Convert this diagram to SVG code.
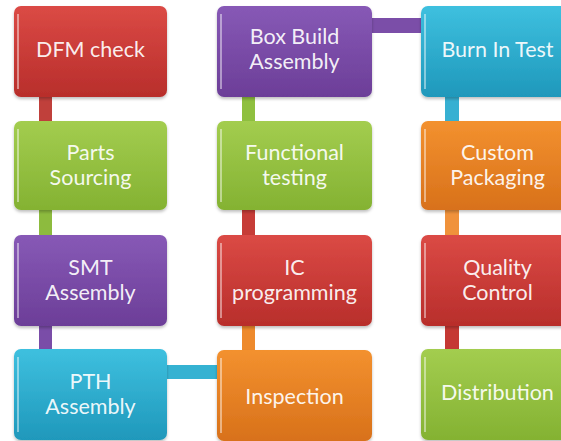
<svg xmlns="http://www.w3.org/2000/svg" width="561" height="441" viewBox="0 0 561 441">
<defs>
<linearGradient id="gRed" x1="0" y1="0" x2="0" y2="1"><stop offset="0" stop-color="#DB4A45"/><stop offset="1" stop-color="#B82E2B"/></linearGradient>
<linearGradient id="gGreen" x1="0" y1="0" x2="0" y2="1"><stop offset="0" stop-color="#A3CD4F"/><stop offset="1" stop-color="#84B232"/></linearGradient>
<linearGradient id="gPurple" x1="0" y1="0" x2="0" y2="1"><stop offset="0" stop-color="#8759B6"/><stop offset="1" stop-color="#6C3E98"/></linearGradient>
<linearGradient id="gCyan" x1="0" y1="0" x2="0" y2="1"><stop offset="0" stop-color="#3EC0DF"/><stop offset="1" stop-color="#1F98BB"/></linearGradient>
<linearGradient id="gOrange" x1="0" y1="0" x2="0" y2="1"><stop offset="0" stop-color="#F3912F"/><stop offset="1" stop-color="#D8711A"/></linearGradient>
<filter id="sh" x="-10%" y="-10%" width="120%" height="125%"><feDropShadow dx="0" dy="2" stdDeviation="1.5" flood-color="#000" flood-opacity="0.25"/></filter>
</defs>
<style>
.box{filter:url(#sh)}
.hl{stroke:#ffffff;stroke-opacity:0.45;stroke-width:2;fill:none}
.t{font-family:Lato,"Open Sans","Liberation Sans",sans-serif;font-size:21.5px;fill:#ffffff;fill-opacity:0.93;text-anchor:middle}
</style>
<g id="connectors">
<rect x="39" y="95" width="13" height="28" fill="#C0403B"/>
<rect x="39" y="208" width="13" height="30" fill="#8DBB3E"/>
<rect x="39" y="324" width="13" height="28" fill="#7A4DA8"/>
<rect x="165" y="365" width="54" height="14" fill="#35B2D2"/>
<rect x="242" y="324" width="13" height="28" fill="#EE8A2C"/>
<rect x="242" y="208" width="13" height="30" fill="#C63C37"/>
<rect x="242" y="95" width="13" height="28" fill="#8FC03F"/>
<rect x="370" y="18" width="53" height="15" fill="#7B4EA8"/>
<rect x="445" y="95" width="14" height="28" fill="#37B0D2"/>
<rect x="445" y="208" width="14" height="30" fill="#F0923B"/>
<rect x="445" y="324" width="14" height="28" fill="#C53934"/>
</g>
<g id="dfm"><rect class="box" x="14" y="6" width="153" height="91" rx="7" fill="url(#gRed)"/><line class="hl" x1="18" y1="14" x2="18" y2="89"/><text class="t" x="90.5" y="57">DFM check</text></g>
<g id="parts"><rect class="box" x="14" y="121" width="153" height="89" rx="7" fill="url(#gGreen)"/><line class="hl" x1="18" y1="129" x2="18" y2="202"/><text class="t" x="90.5" y="160">Parts</text><text class="t" x="90.5" y="185">Sourcing</text></g>
<g id="smt"><rect class="box" x="14" y="235" width="153" height="91" rx="7" fill="url(#gPurple)"/><line class="hl" x1="18" y1="243" x2="18" y2="318"/><text class="t" x="90.5" y="275">SMT</text><text class="t" x="90.5" y="300">Assembly</text></g>
<g id="pth"><rect class="box" x="14" y="349" width="153" height="91" rx="7" fill="url(#gCyan)"/><line class="hl" x1="18" y1="357" x2="18" y2="432"/><text class="t" x="90.5" y="389">PTH</text><text class="t" x="90.5" y="414">Assembly</text></g>
<g id="boxbuild"><rect class="box" x="217" y="6" width="155" height="91" rx="7" fill="url(#gPurple)"/><line class="hl" x1="221" y1="14" x2="221" y2="89"/><text class="t" x="294.5" y="44">Box Build</text><text class="t" x="294.5" y="69">Assembly</text></g>
<g id="functional"><rect class="box" x="217" y="121" width="155" height="89" rx="7" fill="url(#gGreen)"/><line class="hl" x1="221" y1="129" x2="221" y2="202"/><text class="t" x="294.5" y="160">Functional</text><text class="t" x="294.5" y="185">testing</text></g>
<g id="ic"><rect class="box" x="217" y="235" width="155" height="91" rx="7" fill="url(#gRed)"/><line class="hl" x1="221" y1="243" x2="221" y2="318"/><text class="t" x="294.5" y="275">IC</text><text class="t" x="294.5" y="300">programming</text></g>
<g id="inspection"><rect class="box" x="217" y="350" width="155" height="91" rx="7" fill="url(#gOrange)"/><line class="hl" x1="221" y1="358" x2="221" y2="433"/><text class="t" x="294.5" y="404" fill-opacity="1">Inspection</text></g>
<g id="burnin"><rect class="box" x="421" y="6" width="155" height="91" rx="7" fill="url(#gCyan)"/><line class="hl" x1="425" y1="14" x2="425" y2="89"/><text class="t" x="497.5" y="57">Burn In Test</text></g>
<g id="custom"><rect class="box" x="421" y="121" width="155" height="89" rx="7" fill="url(#gOrange)"/><line class="hl" x1="425" y1="129" x2="425" y2="202"/><text class="t" x="497.5" y="160">Custom</text><text class="t" x="497.5" y="185">Packaging</text></g>
<g id="quality"><rect class="box" x="421" y="235" width="155" height="91" rx="7" fill="url(#gRed)"/><line class="hl" x1="425" y1="243" x2="425" y2="318"/><text class="t" x="497.5" y="275">Quality</text><text class="t" x="497.5" y="300">Control</text></g>
<g id="distribution"><rect class="box" x="421" y="349" width="155" height="91" rx="7" fill="url(#gGreen)"/><line class="hl" x1="425" y1="357" x2="425" y2="432"/><text class="t" x="497.5" y="400">Distribution</text></g>
</svg>
